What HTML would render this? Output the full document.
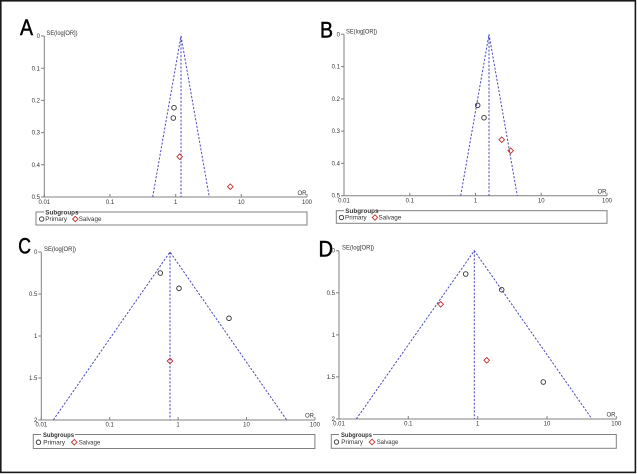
<!DOCTYPE html>
<html><head><meta charset="utf-8"><style>
html,body{margin:0;padding:0;background:#fff;}
svg{display:block;}
text{font-family:"Liberation Sans",Arial,sans-serif;fill:#333;}
.t{font-size:6px;}
.ax{stroke:#808080;stroke-width:1;fill:none;}
.f{stroke:#4a4ac0;stroke-width:1;stroke-dasharray:2.2,1.6;fill:none;}
.c{stroke:#333;stroke-width:0.9;fill:none;}
.d{stroke:#c03030;stroke-width:0.9;fill:none;}
.lb{stroke:#808080;stroke-width:1;fill:#fff;}
.L{font-size:22px;fill:#000;stroke:#000;stroke-width:0.5;}
.lg{font-size:6.3px;}
.sg{font-size:6.3px;font-weight:bold;}
</style></head><body>
<svg width="637" height="474" viewBox="0 0 637 474" xmlns="http://www.w3.org/2000/svg">
<rect x="0.8" y="0.8" width="634.6" height="471.6" fill="#fff" stroke="#1a1a1a" stroke-width="1.6"/>

<!-- ================= PANEL A ================= -->
<text class="L" x="20" y="35" textLength="13" lengthAdjust="spacingAndGlyphs">A</text>
<text class="t" x="46.5" y="35" textLength="31" lengthAdjust="spacingAndGlyphs">SE(log[OR])</text>
<path class="ax" d="M44.3,36V197H307"/>
<path class="ax" d="M41,36H44.3M41,68.2H44.3M41,100.4H44.3M41,132.6H44.3M41,164.8H44.3M41,197H44.3"/>
<path class="ax" d="M44.3,197V194M110,197V194M175.7,197V194M241.3,197V194M307,197V194"/>
<g class="t" text-anchor="end">
<text x="40" y="38">0</text><text x="40" y="70.3">0.1</text><text x="40" y="102.5">0.2</text>
<text x="40" y="134.7">0.3</text><text x="40" y="166.9">0.4</text><text x="40" y="199">0.5</text>
</g>
<g class="t" text-anchor="middle">
<text x="44.3" y="204">0.01</text><text x="110" y="204">0.1</text><text x="175.7" y="204">1</text>
<text x="241.3" y="204">10</text><text x="307" y="204">100</text>
</g>
<text class="t" x="306.5" y="195" text-anchor="end">OR</text>
<path class="f" d="M152.7,197L181,36L209.3,197M181,36V197"/>
<circle class="c" cx="174" cy="107.7" r="2.3"/>
<circle class="c" cx="173.3" cy="118" r="2.3"/>
<path class="d" d="M179.7,153.9l2.8,2.8l-2.8,2.8l-2.8,-2.8z"/>
<path class="d" d="M230.3,183.9l2.8,2.8l-2.8,2.8l-2.8,-2.8z"/>
<rect class="lb" x="36" y="212" width="271" height="13"/>
<rect x="44" y="209" width="32" height="5" fill="#fff"/>
<text class="sg" x="45.3" y="214.3">Subgroups</text>
<circle class="c" cx="41.7" cy="219" r="2.2"/>
<text class="lg" x="45.3" y="221.2">Primary</text>
<path class="d" d="M75.3,216.3l2.7,2.7l-2.7,2.7l-2.7,-2.7z"/>
<text class="lg" x="78.7" y="221.2">Salvage</text>

<!-- ================= PANEL B ================= -->
<text class="L" x="320" y="37.7" textLength="13" lengthAdjust="spacingAndGlyphs">B</text>
<text class="t" x="346" y="33.5" textLength="31" lengthAdjust="spacingAndGlyphs">SE(log[OR])</text>
<path class="ax" d="M344,34.3V195.7H607"/>
<path class="ax" d="M341,34.3H344M341,66.6H344M341,98.9H344M341,131.1H344M341,163.4H344M341,195.7H344"/>
<path class="ax" d="M344,195.7V192.7M409.75,195.7V192.7M475.5,195.7V192.7M541.25,195.7V192.7M607,195.7V192.7"/>
<g class="t" text-anchor="end">
<text x="340" y="36.3">0</text><text x="340" y="68.7">0.1</text><text x="340" y="101">0.2</text>
<text x="340" y="133.2">0.3</text><text x="340" y="165.5">0.4</text><text x="340" y="197.7">0.5</text>
</g>
<g class="t" text-anchor="middle">
<text x="344" y="202.7">0.01</text><text x="409.75" y="202.7">0.1</text><text x="475.5" y="202.7">1</text>
<text x="541.25" y="202.7">10</text><text x="607" y="202.7">100</text>
</g>
<text class="t" x="606.5" y="193.5" text-anchor="end">OR</text>
<path class="f" d="M460.7,195.7L489,34.3L517.3,195.7M489,34.3V195.7"/>
<circle class="c" cx="477.7" cy="105.3" r="2.3"/>
<circle class="c" cx="484" cy="117.7" r="2.3"/>
<path class="d" d="M501.7,136.9l2.8,2.8l-2.8,2.8l-2.8,-2.8z"/>
<path class="d" d="M510.7,147.9l2.8,2.8l-2.8,2.8l-2.8,-2.8z"/>
<rect class="lb" x="336.3" y="210.7" width="270.7" height="12.6"/>
<rect x="344" y="207.7" width="32" height="5" fill="#fff"/>
<text class="sg" x="345.3" y="213">Subgroups</text>
<circle class="c" cx="341.5" cy="217.5" r="2.2"/>
<text class="lg" x="345" y="219.7">Primary</text>
<path class="d" d="M375,214.8l2.7,2.7l-2.7,2.7l-2.7,-2.7z"/>
<text class="lg" x="378.5" y="219.7">Salvage</text>

<!-- ================= PANEL C ================= -->
<text class="L" x="18.3" y="253.3" textLength="12.7" lengthAdjust="spacingAndGlyphs">C</text>
<text class="t" x="44" y="251" textLength="32" lengthAdjust="spacingAndGlyphs">SE(log[OR])</text>
<path class="ax" d="M41.3,252V420H314.9"/>
<path class="ax" d="M38.3,252H41.3M38.3,294H41.3M38.3,336H41.3M38.3,378H41.3M38.3,420H41.3"/>
<path class="ax" d="M41.3,420V417M109.7,420V417M178.1,420V417M246.5,420V417M314.9,420V417"/>
<g class="t" text-anchor="end">
<text x="37.3" y="254">0</text><text x="37.3" y="296">0.5</text><text x="37.3" y="338">1</text>
<text x="37.3" y="380">1.5</text><text x="37.3" y="422">2</text>
</g>
<g class="t" text-anchor="middle">
<text x="41.3" y="426.5">0.01</text><text x="109.7" y="426.5">0.1</text><text x="178.1" y="426.5">1</text>
<text x="246.5" y="426.5">10</text><text x="314.9" y="426.5">100</text>
</g>
<text class="t" x="314" y="417.5" text-anchor="end">OR</text>
<path class="f" d="M53.3,420L170,252L286.7,420M170,252V420"/>
<circle class="c" cx="160.3" cy="273" r="2.3"/>
<circle class="c" cx="179" cy="288.3" r="2.3"/>
<circle class="c" cx="229" cy="318.3" r="2.3"/>
<path class="d" d="M170,358.2l2.8,2.8l-2.8,2.8l-2.8,-2.8z"/>
<rect class="lb" x="33.3" y="434.5" width="281.6" height="14"/>
<rect x="41" y="431.5" width="34" height="5" fill="#fff"/>
<text class="sg" x="43" y="436.8" textLength="31" lengthAdjust="spacingAndGlyphs">Subgroups</text>
<circle class="c" cx="38.5" cy="442.2" r="2.2"/>
<text class="lg" x="43.3" y="444.4" textLength="21.7" lengthAdjust="spacingAndGlyphs">Primary</text>
<path class="d" d="M74.3,439.4l2.8,2.8l-2.8,2.8l-2.8,-2.8z"/>
<text class="lg" x="78.7" y="444.4" textLength="21.6" lengthAdjust="spacingAndGlyphs">Salvage</text>

<!-- ================= PANEL D ================= -->
<text class="L" x="318.5" y="256.7" textLength="14.5" lengthAdjust="spacingAndGlyphs">D</text>
<text class="t" x="342" y="249.5" textLength="32" lengthAdjust="spacingAndGlyphs">SE(log[OR])</text>
<path class="ax" d="M339,250.7V419H616.3"/>
<path class="ax" d="M336,250.7H339M336,292.8H339M336,334.9H339M336,376.9H339M336,419H339"/>
<path class="ax" d="M339,419V416M408.3,419V416M477.7,419V416M547,419V416M616.3,419V416"/>
<g class="t" text-anchor="end">
<text x="335" y="252.7">0</text><text x="335" y="294.8">0.5</text><text x="335" y="336.9">1</text>
<text x="335" y="378.9">1.5</text><text x="335" y="421">2</text>
</g>
<g class="t" text-anchor="middle">
<text x="339" y="425.5">0.01</text><text x="408.3" y="425.5">0.1</text><text x="477.7" y="425.5">1</text>
<text x="547" y="425.5">10</text><text x="616.3" y="425.5">100</text>
</g>
<text class="t" x="615.5" y="416.5" text-anchor="end">OR</text>
<path class="f" d="M356.3,419L474.3,250.7L592,419M474.3,250.7V419"/>
<circle class="c" cx="465.7" cy="274" r="2.3"/>
<circle class="c" cx="501.7" cy="289.7" r="2.3"/>
<circle class="c" cx="543.3" cy="382" r="2.3"/>
<path class="d" d="M440.7,301.5l2.8,2.8l-2.8,2.8l-2.8,-2.8z"/>
<path class="d" d="M486.7,357.5l2.8,2.8l-2.8,2.8l-2.8,-2.8z"/>
<rect class="lb" x="331.3" y="434.5" width="285" height="13.8"/>
<rect x="339" y="431.5" width="34" height="5" fill="#fff"/>
<text class="sg" x="341" y="436.8" textLength="31" lengthAdjust="spacingAndGlyphs">Subgroups</text>
<circle class="c" cx="336.5" cy="442" r="2.2"/>
<text class="lg" x="341.3" y="444.2" textLength="21.7" lengthAdjust="spacingAndGlyphs">Primary</text>
<path class="d" d="M372,439.2l2.8,2.8l-2.8,2.8l-2.8,-2.8z"/>
<text class="lg" x="376.7" y="444.2" textLength="21.6" lengthAdjust="spacingAndGlyphs">Salvage</text>
</svg>
</body></html>
